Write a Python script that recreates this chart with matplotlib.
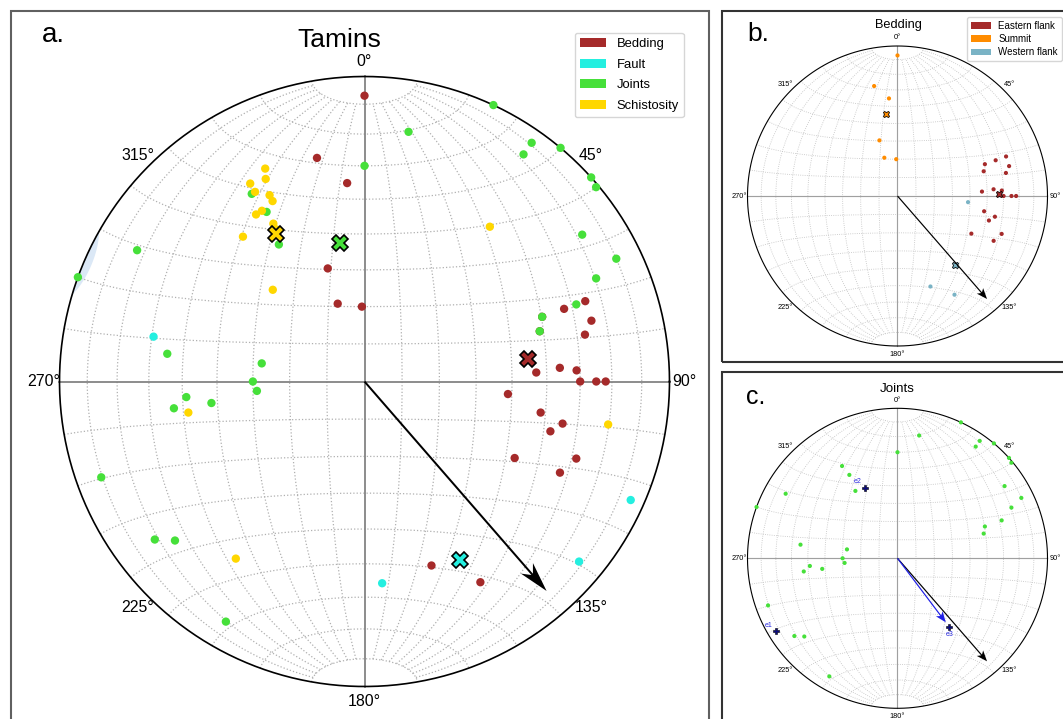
import numpy as np
import matplotlib.pyplot as plt
from matplotlib.patches import Rectangle, Patch, Polygon

plt.rcParams['font.family'] = ['Liberation Sans', 'DejaVu Sans']

# Bedding planes (dip direction / dip), split by structural position
summit_dd = [180, 168, 175, 162, 161, 178]
summit_dip = [83, 64, 55, 32, 22, 20]
eastern_dd = [250, 250, 250, 255, 254, 258, 266, 267, 267, 270, 270, 270, 280, 282, 285, 297, 290, 295]
eastern_dip = [66, 59, 52, 66, 50, 63, 54, 59, 47, 60, 65, 68, 49, 56, 53, 46, 63, 60]
western_dd = [275, 340, 330]
western_dip = [39, 54, 65]

fault_dd = [102, 294, 310, 355]
fault_dip = [60, 85, 81, 56]

joint_dd = [180, 149, 150, 148, 120, 110, 205, 190, 215, 215, 220, 228, 230, 236, 244,
            246, 250, 250, 254, 98, 100, 90, 85, 85, 82, 82, 70, 53, 50, 30]
joint_dip = [60, 61, 54, 44, 75, 90, 90, 72, 85, 80, 90, 90, 89, 75, 81,
             72, 63, 52, 50, 55, 28, 30, 29, 49, 42, 53, 81, 75, 70, 80]

schist_dd = [155, 154, 150, 150, 153, 153, 149, 147, 150, 150, 140, 135, 219, 80, 280, 36]
schist_dip = [66, 63, 64, 61, 58, 56, 55, 55, 50, 48, 52, 35, 55, 49, 70, 61]

# mean planes (dip direction / dip)
mean_a = {'Bedding': (262, 45), 'Fault': (332, 56), 'Joints': (170, 38), 'Schistosity': (149, 47)}
mean_b = {'Eastern flank': (269, 57), 'Summit': (172, 46), 'Western flank': (320, 50)}

# principal axes of the joint set (trend / plunge)
eig_names = ['e1', 'e2', 'e3']
eig_trend = [239, 335, 143]
eig_plunge = [6, 47, 42]

# regional shortening direction
arrow_trend = 139

colors_a = {'Bedding': '#a52a2a', 'Fault': '#24efe0', 'Joints': '#46e03a', 'Schistosity': '#ffd700'}
colors_b = {'Eastern flank': '#a52a2a', 'Summit': '#ff8c00', 'Western flank': '#7ab3c5'}

W, H = 1063, 719


def line_xy(trend, plunge):
    t = np.radians(np.asarray(trend, float))
    th = np.radians(90 - np.asarray(plunge, float))
    r = np.sqrt(2) * np.sin(th / 2)
    return r * np.sin(t), r * np.cos(t)


def pole_xy(dd, dip):
    return line_xy((np.asarray(dd) + 180) % 360, 90 - np.asarray(dip))


def lonlat_xy(lon, lat):
    lon, lat = np.radians(lon), np.radians(lat)
    k = np.sqrt(2 / (1 + np.cos(lat) * np.cos(lon)))
    return k * np.cos(lat) * np.sin(lon) / np.sqrt(2), k * np.sin(lat) / np.sqrt(2)


def stereonet(fig, cx, cy, R, pad, grid_lw, grid_col, axis_col, rim_lw, fs, lab_r):
    ax = fig.add_axes([(cx - R * pad) / W, (H - cy - R * pad) / H, 2 * R * pad / W, 2 * R * pad / H])
    ax.set_xlim(-pad, pad)
    ax.set_ylim(-pad, pad)
    ax.axis('off')
    s = np.linspace(-80, 80, 161)
    for lon in range(-80, 81, 10):
        if lon == 0:
            continue
        ax.plot(*lonlat_xy(np.full_like(s, lon), s), ls=':', lw=grid_lw, color=grid_col, zorder=1)
    s2 = np.linspace(-90, 90, 181)
    for lat in range(-80, 81, 10):
        if lat == 0:
            continue
        ax.plot(*lonlat_xy(s2, np.full_like(s2, lat)), ls=':', lw=grid_lw, color=grid_col, zorder=1)
    ax.plot([-1, 1], [0, 0], color=axis_col, lw=grid_lw * 1.4, zorder=1)
    ax.plot([0, 0], [-1, 1], color=axis_col, lw=grid_lw * 1.4, zorder=1)
    a = np.linspace(0, 2 * np.pi, 400)
    ax.plot(np.cos(a), np.sin(a), color='black', lw=rim_lw, zorder=2)
    for az in range(0, 360, 45):
        ax.text(lab_r * np.sin(np.radians(az)), lab_r * np.cos(np.radians(az)), '%d°' % az,
                ha='center', va='center', fontsize=fs)
    return ax


def shortening_arrow(ax, trend, length, color, width, hw, hl, hal):
    t = np.radians(trend)
    ax.quiver(0, 0, length * np.sin(t), length * np.cos(t), angles='xy', scale_units='xy', scale=1,
              units='dots', width=width, headwidth=hw, headlength=hl, headaxislength=hal,
              color=color, zorder=6)


fig = plt.figure(figsize=(W / 100, H / 100), dpi=100)

# panel frames
fig.patches.append(Rectangle((11 / W, -0.05), (708.5 - 11) / W, (H - 10.7) / H + 0.05, transform=fig.transFigure,
                             fill=False, edgecolor='#606060', lw=1.5))
fig.patches.append(Rectangle((722 / W, (H - 362) / H), (W - 722 + 20) / W, (362 - 10.7) / H,
                             transform=fig.transFigure, fill=False, edgecolor='#333333', lw=1.5))
fig.patches.append(Rectangle((722 / W, -0.05), (W - 722 + 20) / W, (H - 372.3) / H + 0.05,
                             transform=fig.transFigure, fill=False, edgecolor='#333333', lw=1.5))

# ---- a. all structures ----
ax = stereonet(fig, 364.5, 381.5, 305, 1.15, 0.9, '#b0b0b0', '#808080', 1.2, 11.4, 1.05)

# faint density patch on the western rim
phi = np.linspace(0, 2 * np.pi, 200)
ct, cp, rho = np.radians(293), np.radians(-5.5), np.radians(8.5)
axis = np.array([np.cos(cp) * np.sin(ct), np.cos(cp) * np.cos(ct), np.sin(cp)])
u = np.cross(axis, [0, 0, 1.0])
u /= np.linalg.norm(u)
v = np.cross(axis, u)
vec = (np.cos(rho) * axis[:, None] + np.sin(rho) * (np.cos(phi) * u[:, None] + np.sin(phi) * v[:, None]))
pl = np.degrees(np.arcsin(vec[2]))
tr = np.degrees(np.arctan2(vec[0], vec[1]))
px, py = line_xy(tr, pl)
blob = Polygon(np.column_stack([px, py]), closed=True, facecolor='#dbe8f6', edgecolor='none', zorder=0.5)
ax.add_patch(blob)
blob.set_clip_path(plt.Circle((0, 0), 1, transform=ax.transData))

bed_dd = summit_dd + eastern_dd + western_dd
bed_dip = summit_dip + eastern_dip + western_dip
sets_a = {'Bedding': (bed_dd, bed_dip), 'Fault': (fault_dd, fault_dip),
          'Joints': (joint_dd, joint_dip), 'Schistosity': (schist_dd, schist_dip)}
for i, (name, (dd, dip)) in enumerate(sets_a.items()):
    ax.scatter(*pole_xy(dd, dip), s=36, color=colors_a[name], edgecolors='none', zorder=3 + i * 0.1)
for name, (dd, dip) in mean_a.items():
    ax.plot(*pole_xy(dd, dip), marker='X', ms=12, mfc=colors_a[name], mec='black', mew=1.2, zorder=5)
shortening_arrow(ax, arrow_trend, 0.91, 'black', 2, 8, 15, 11)

fig.text(339 / W, 1 - 46.7 / H, 'Tamins', ha='center', va='baseline', fontsize=19)
fig.text(41.7 / W, 1 - 41.7 / H, 'a.', ha='left', va='baseline', fontsize=20)
fig.legend(handles=[Patch(facecolor=colors_a[k], edgecolor='none', label=k) for k in colors_a],
           loc='upper right', bbox_to_anchor=(684 / W, 1 - 32.7 / H), bbox_transform=fig.transFigure,
           borderaxespad=0, fontsize=9.4, labelspacing=0.65)

# ---- b. bedding by position ----
ax = stereonet(fig, 897.5, 196, 150, 1.12, 0.6, '#c0c0c0', '#a0a0a0', 0.8, 5.3, 1.055)
sets_b = {'Eastern flank': (eastern_dd, eastern_dip), 'Summit': (summit_dd, summit_dip),
          'Western flank': (western_dd, western_dip)}
for name, (dd, dip) in sets_b.items():
    ax.scatter(*pole_xy(dd, dip), s=9, color=colors_b[name], edgecolors='none', zorder=3)
for name, (dd, dip) in mean_b.items():
    ax.plot(*pole_xy(dd, dip), marker='X', ms=4.5, mfc=colors_b[name], mec='black', mew=0.6, zorder=5)
shortening_arrow(ax, arrow_trend, 0.91, 'black', 1.2, 7, 9, 7)
fig.text(898 / W, 1 - 28 / H, 'Bedding', ha='center', va='baseline', fontsize=9.2)
fig.text(747 / W, 1 - 40.7 / H, 'b.', ha='left', va='baseline', fontsize=19)
fig.legend(handles=[Patch(facecolor=colors_b[k], edgecolor='none', label=k) for k in colors_b],
           loc='upper right', bbox_to_anchor=(1061.7 / W, 1 - 16.7 / H), bbox_transform=fig.transFigure,
           borderaxespad=0, fontsize=7, labelspacing=0.35)

# ---- c. joints and principal axes ----
ax = stereonet(fig, 897.5, 558.3, 150, 1.12, 0.6, '#c0c0c0', '#a0a0a0', 0.8, 5.3, 1.055)
ax.scatter(*pole_xy(joint_dd, joint_dip), s=9, color=colors_a['Joints'], edgecolors='none', zorder=3)
ex, ey = line_xy(eig_trend, eig_plunge)
ax.plot(ex, ey, 'P', ls='none', ms=5, mfc='#0a0a80', mec='black', mew=0.4, zorder=5)
offsets = {'e1': (-5.3, 4.6), 'e2': (-5.3, 4.6), 'e3': (0.4, -5.0)}
for name, x, y in zip(eig_names, ex, ey):
    ax.annotate(name, (x, y), xytext=offsets[name], textcoords='offset points',
                ha='center', va='center', fontsize=5, color='#2a2ae0')
shortening_arrow(ax, arrow_trend, 0.91, 'black', 1.2, 7, 9, 7)
e3_len = np.hypot(ex[2], ey[2])
shortening_arrow(ax, eig_trend[2], 0.93 * e3_len, '#1f1fe6', 1.2, 7, 9, 7)
fig.text(897 / W, 1 - 391.7 / H, 'Joints', ha='center', va='baseline', fontsize=9.6)
fig.text(745.7 / W, 1 - 404.3 / H, 'c.', ha='left', va='baseline', fontsize=18)

fig.savefig('out.png', dpi=100)
